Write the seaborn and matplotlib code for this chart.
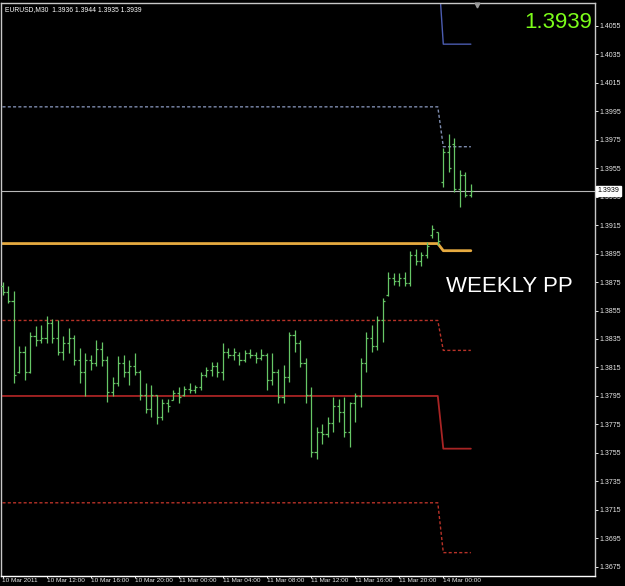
import matplotlib
matplotlib.use("Agg")
import matplotlib.pyplot as plt
import matplotlib.transforms as mtransforms
import numpy as np
import pandas as pd
import seaborn as sns

# ---------------- data ----------------
bar_index = list(range(86))
opens = [1.3872, 1.3868, 1.3862, 1.3812, 1.3826, 1.3812, 1.3837, 1.3834, 1.3836, 1.3846,
         1.3836, 1.3826, 1.3832, 1.3836, 1.3820, 1.3812, 1.3820, 1.3818, 1.3828, 1.3820,
         1.3798, 1.3804, 1.3818, 1.3812, 1.3816, 1.3812, 1.3796, 1.3786, 1.3796, 1.3780,
         1.3790, 1.3792, 1.3797, 1.3796, 1.3800, 1.3799, 1.3801, 1.3810, 1.3813, 1.3816,
         1.3812, 1.3826, 1.3824, 1.3824, 1.3820, 1.3825, 1.3824, 1.3822, 1.3824, 1.3806,
         1.3812, 1.3794, 1.3808, 1.3838, 1.3832, 1.3818, 1.3796, 1.3756, 1.3770, 1.3768,
         1.3776, 1.3788, 1.3784, 1.3770, 1.3790, 1.3795, 1.3818, 1.3836, 1.3830, 1.3848,
         1.3866, 1.3878, 1.3876, 1.3878, 1.3874, 1.3894, 1.3890, 1.3894, 1.3908, 1.3910,
         1.3945, 1.3966, 1.3972, 1.3940, 1.3950, 1.3936]
highs = [1.3875, 1.3872, 1.3869, 1.3830, 1.3830, 1.3840, 1.3844, 1.3845, 1.3851, 1.3849,
         1.3848, 1.3837, 1.3843, 1.3838, 1.3829, 1.3825, 1.3824, 1.3834, 1.3833, 1.3823,
         1.3808, 1.3823, 1.3824, 1.3820, 1.3825, 1.3813, 1.3804, 1.3803, 1.3796, 1.3793,
         1.3793, 1.3799, 1.3801, 1.3802, 1.3804, 1.3803, 1.3812, 1.3815, 1.3819, 1.3819,
         1.3832, 1.3829, 1.3829, 1.3826, 1.3827, 1.3828, 1.3826, 1.3828, 1.3825, 1.3825,
         1.3814, 1.3817, 1.3840, 1.3841, 1.3834, 1.3822, 1.3801, 1.3773, 1.3775, 1.3780,
         1.3794, 1.3793, 1.3794, 1.3791, 1.3797, 1.3822, 1.3840, 1.3845, 1.3851, 1.3864,
         1.3882, 1.3881, 1.3881, 1.3882, 1.3897, 1.3898, 1.3896, 1.3903, 1.3915, 1.3910,
         1.3969, 1.3979, 1.3976, 1.3954, 1.3952, 1.3944]
lows = [1.3866, 1.3860, 1.3804, 1.3811, 1.3806, 1.3811, 1.3830, 1.3832, 1.3832, 1.3832,
        1.3824, 1.3820, 1.3825, 1.3817, 1.3804, 1.3795, 1.3813, 1.3816, 1.3816, 1.3791,
        1.3795, 1.3802, 1.3808, 1.3803, 1.3810, 1.3792, 1.3783, 1.3780, 1.3775, 1.3778,
        1.3784, 1.3792, 1.3790, 1.3795, 1.3797, 1.3797, 1.3799, 1.3808, 1.3809, 1.3808,
        1.3806, 1.3822, 1.3820, 1.3817, 1.3819, 1.3822, 1.3818, 1.3820, 1.3799, 1.3803,
        1.3790, 1.3790, 1.3805, 1.3826, 1.3815, 1.3790, 1.3752, 1.3751, 1.3761, 1.3766,
        1.3770, 1.3777, 1.3766, 1.3759, 1.3777, 1.3787, 1.3812, 1.3826, 1.3827, 1.3833,
        1.3865, 1.3873, 1.3872, 1.3872, 1.3872, 1.3887, 1.3886, 1.3892, 1.3906, 1.3901,
        1.3942, 1.3952, 1.3938, 1.3928, 1.3935, 1.3935]
closes = [1.3868, 1.3862, 1.3810, 1.3826, 1.3812, 1.3837, 1.3834, 1.3836, 1.3846, 1.3836,
          1.3826, 1.3832, 1.3836, 1.3820, 1.3812, 1.3820, 1.3818, 1.3828, 1.3820, 1.3798,
          1.3804, 1.3818, 1.3812, 1.3816, 1.3812, 1.3796, 1.3786, 1.3796, 1.3780, 1.3790,
          1.3788, 1.3797, 1.3794, 1.3800, 1.3799, 1.3801, 1.3810, 1.3813, 1.3816, 1.3812,
          1.3826, 1.3824, 1.3826, 1.3820, 1.3825, 1.3824, 1.3822, 1.3824, 1.3806, 1.3812,
          1.3794, 1.3808, 1.3838, 1.3832, 1.3818, 1.3796, 1.3756, 1.3770, 1.3768, 1.3776,
          1.3788, 1.3784, 1.3770, 1.3790, 1.3795, 1.3818, 1.3836, 1.3830, 1.3848, 1.3862,
          1.3878, 1.3876, 1.3878, 1.3874, 1.3894, 1.3890, 1.3894, 1.3900, 1.3912, 1.3904,
          1.3966, 1.3955, 1.3940, 1.3950, 1.3936, 1.3939]

# pivot levels: value on the last Friday bar and from the first Monday bar
level_bars = [0, 79, 80, 85]
r2_level = [1.4100, 1.4100, 1.4042, 1.4042]
r1_level = [1.3998, 1.3998, 1.3970, 1.3970]
pp_level = [1.3902, 1.3902, 1.3897, 1.3897]
s1_level = [1.3848, 1.3848, 1.3827, 1.3827]
s2_level = [1.3795, 1.3795, 1.3758, 1.3758]
s3_level = [1.3720, 1.3720, 1.3685, 1.3685]

last_price = 1.3939
header_text = "EURUSD,M30  1.3936 1.3944 1.3935 1.3939"

x_tick_pos = [0, 8, 16, 24, 32, 40, 48, 56, 64, 72, 80]
x_tick_labels = ["10 Mar 2011", "10 Mar 12:00", "10 Mar 16:00", "10 Mar 20:00",
                 "11 Mar 00:00", "11 Mar 04:00", "11 Mar 08:00", "11 Mar 12:00",
                 "11 Mar 16:00", "11 Mar 20:00", "14 Mar 00:00"]
y_tick_labels = ["1.3675", "1.3695", "1.3715", "1.3735", "1.3755", "1.3775", "1.3795",
                 "1.3815", "1.3835", "1.3855", "1.3875", "1.3895", "1.3915", "1.3935",
                 "1.3955", "1.3975", "1.3995", "1.4015", "1.4035", "1.4055"]

# ---------------- style ----------------
sns.set_theme(style="ticks")
plt.rcParams["font.family"] = ["Liberation Sans", "DejaVu Sans"]

W, H = 625, 586
fig = plt.figure(figsize=(W / 100, H / 100), dpi=100, facecolor="black")
ax = fig.add_axes([1 / W, 1 - 576 / H, 594 / W, 573 / H], facecolor="black")

bar_color = "#66c666"
df = pd.DataFrame({"i": bar_index, "o": opens, "h": highs, "l": lows, "c": closes})

# pivot lines (seaborn)
line_specs = [
    (r2_level, "#4b5cb0", "-", 1.0),
    (r1_level, "#7f8db0", (0, (2.2, 1.6)), 1.0),
    (s1_level, "#b83228", (0, (2.2, 1.6)), 1.0),
    (s2_level, "#a82424", "-", 1.3),
    (s3_level, "#b83228", (0, (2.2, 1.6)), 1.0),
]
for vals, col, ls, lw in line_specs:
    sns.lineplot(x=level_bars, y=vals, ax=ax, color=col, linestyle=ls, linewidth=lw,
                 sort=False, zorder=2)
sns.lineplot(x=level_bars, y=pp_level, ax=ax, color="#e6aa40", linewidth=2.0,
             sort=False, zorder=2)

# current price line
ax.axhline(last_price, color="#b8b8b8", linewidth=0.8, zorder=1)

# OHLC bars
ax.vlines(df["i"], df["l"], df["h"], color=bar_color, linewidth=0.9, zorder=3)
ax.hlines(df["o"], df["i"] - 0.38, df["i"], color=bar_color, linewidth=0.9, zorder=3)
ax.hlines(df["c"], df["i"], df["i"] + 0.38, color=bar_color, linewidth=0.9, zorder=3)

ax.set_xlim((1 - 2.5) / 5.51, (595 - 2.5) / 5.51)
ax.set_ylim(1.36686, 1.40709)

# axes & ticks
for side in ["left", "right", "top", "bottom"]:
    ax.spines[side].set_color("#c8c8c8")
    ax.spines[side].set_linewidth(1.0)
ax.spines["bottom"].set_color("#ffffff")

ax.yaxis.tick_right()
ax.set_yticks([float(v) for v in y_tick_labels])
ax.set_yticklabels(y_tick_labels)
ax.set_xticks(x_tick_pos)
ax.set_xticklabels(x_tick_labels, ha="left")
ax.tick_params(axis="both", colors="#e8e8e8", labelcolor="#e8e8e8", labelsize=4.6,
               length=2.0, width=0.7, direction="out", pad=1.0)
ax.tick_params(axis="y", labelsize=5.0)
ax.tick_params(axis="x", length=1.5, pad=0.3)
ax.set_xlabel("")
ax.set_ylabel("")
ax.grid(False)

# price box on the axis
trans = mtransforms.blended_transform_factory(ax.transAxes, ax.transData)
ax.text(1.004, last_price, "1.3939", transform=trans, fontsize=5.0, color="black",
        va="center", ha="left", zorder=10, clip_on=False,
        bbox=dict(boxstyle="square,pad=0.2", facecolor="white", edgecolor="white"))

# texts
fig.text(5 / W, 1 - 11 / H, header_text, color="white", fontsize=4.9,
         ha="left", va="baseline")
fig.text(592 / W, 1 - 28 / H, "1.3939", color="#7cfc1a", fontsize=16,
         ha="right", va="baseline")
fig.text(446 / W, 1 - 292 / H, "WEEKLY PP", color="white", fontsize=16,
         ha="left", va="baseline")

# shift marker
ax.plot([0.8015], [0.997], marker="v", color="#9a9a9a", markersize=3.5,
        transform=ax.transAxes, clip_on=False, zorder=10)

fig.savefig("out.png", dpi=100, facecolor="black")
